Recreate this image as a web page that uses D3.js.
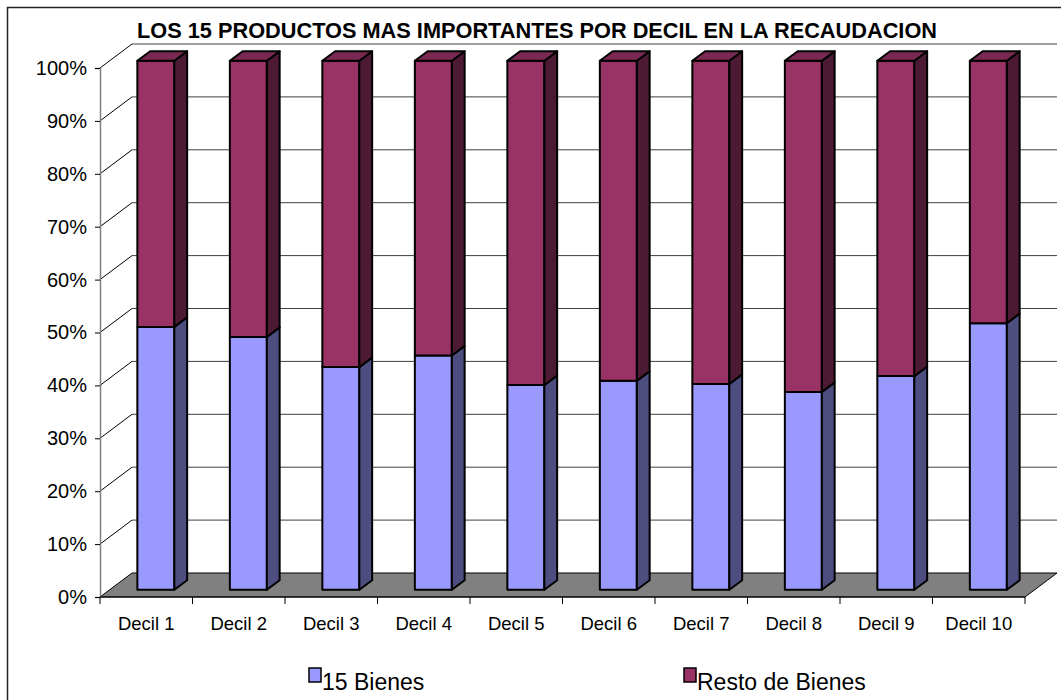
<!DOCTYPE html>
<html>
<head>
<meta charset="utf-8">
<script src="https://cdn.jsdelivr.net/npm/d3@7"></script>
<style>
  html, body { margin: 0; padding: 0; background: #fff; }
  svg { display: block; font-family: "Liberation Sans", Arial, sans-serif; }
</style>
</head>
<body>
<svg id="chart" width="1061" height="700"></svg>
<script>
const title = "LOS 15 PRODUCTOS MAS IMPORTANTES POR DECIL EN LA RECAUDACION";
const categories = ["Decil 1","Decil 2","Decil 3","Decil 4","Decil 5","Decil 6","Decil 7","Decil 8","Decil 9","Decil 10"];
const bienes15 = [49.7, 47.8, 42.1, 44.3, 38.7, 39.5, 38.9, 37.4, 40.4, 50.4];
const restoBienes = [50.3, 52.2, 57.9, 55.7, 61.3, 60.5, 61.1, 62.6, 59.6, 49.6];
const seriesNames = ["15 Bienes", "Resto de Bienes"];
const yTicks = [0, 0.1, 0.2, 0.3, 0.4, 0.5, 0.6, 0.7, 0.8, 0.9, 1.0];

const colors = {
  "15 Bienes": { front: "#9999FF", side: "#4D4D80", top: "#7A7ACC" },
  "Resto de Bienes": { front: "#993366", side: "#4D1A33", top: "#7A2952" }
};

const svg = d3.select("#chart");

// Outer border
svg.append("rect").attr("x", 7.5).attr("y", 7.5).attr("width", 1100).attr("height", 800)
  .attr("fill", "none").attr("stroke", "#222").attr("stroke-width", 1.5);

// geometry
const X0 = 100, X1 = 1025, YB = 597, YT = 68;
const DX = 32, DY = -24;     // depth projection
const Z0 = 0.3, Z1 = 0.7;    // bar depth range

const y = d3.scaleLinear().domain([0, 1]).range([YB, YT]);
const xSlot = d3.scaleBand().domain(categories).range([X0, X1]).padding(0);
const xBar = d3.scaleBand().domain(categories).range([X0, X1]).paddingInner(0.6).paddingOuter(0.3);

const P = (sx, sy, z) => [sx + DX * z, sy + DY * z];
const pts = arr => arr.map(p => p.join(",")).join(" ");

const table = categories.map((c, i) => ({ cat: c, "15 Bienes": bienes15[i], "Resto de Bienes": restoBienes[i] }));
const stacked = d3.stack().keys(seriesNames).offset(d3.stackOffsetExpand)(table);

// Back wall gridlines
const grid = svg.append("g");
yTicks.filter(t => t > 0).forEach(t => {
  const a = P(X0, y(t), 0), b = P(X0, y(t), 1), c = P(X1, y(t), 1);
  grid.append("line").attr("x1", a[0]).attr("y1", a[1]).attr("x2", b[0]).attr("y2", b[1])
    .attr("stroke", "#000").attr("stroke-width", 1);
  grid.append("line").attr("x1", b[0]).attr("y1", b[1]).attr("x2", c[0]).attr("y2", c[1])
    .attr("stroke", "#404040").attr("stroke-width", 1);
});

// Floor
svg.append("polygon")
  .attr("points", pts([P(X0, YB, 0), P(X1, YB, 0), P(X1, YB, 1), P(X0, YB, 1)]))
  .attr("fill", "#808080").attr("stroke", "#000").attr("stroke-width", 1);

// Y axis
const yAxis = d3.axisLeft(y).tickValues(yTicks).tickFormat(d3.format(".0%")).tickSize(5).tickPadding(8);
const yg = svg.append("g").attr("transform", `translate(${X0},0)`).call(yAxis);
yg.select(".domain").attr("stroke", "#808080").attr("stroke-width", 1.5);
yg.selectAll(".tick line").attr("stroke", "#000");
yg.selectAll("text").attr("font-size", "20px").attr("fill", "#000")
  .attr("font-family", "'Liberation Sans', Arial, sans-serif");

// X axis
const xg = svg.append("g");
xg.append("line").attr("x1", X0).attr("y1", YB).attr("x2", X1).attr("y2", YB).attr("stroke", "#000");
const boundaries = categories.map(c => xSlot(c)).concat([X1]);
boundaries.forEach(bx => {
  xg.append("line").attr("x1", bx).attr("y1", YB).attr("x2", bx).attr("y2", YB + 7).attr("stroke", "#000");
});
xg.selectAll("text.cat").data(categories).join("text").attr("class", "cat")
  .attr("x", c => xSlot(c) + xSlot.bandwidth() / 2).attr("y", 630)
  .attr("text-anchor", "middle").attr("font-size", "18.5px").attr("fill", "#000")
  .text(c => c);

// Bars
const bars = svg.append("g");
categories.forEach((c, i) => {
  const xl = xBar(c), xr = xBar(c) + xBar.bandwidth();
  stacked.forEach((s, si) => {
    const d = s[i];
    const yb = y(d[0]), yt = y(d[1]);
    const col = colors[s.key];
    bars.append("polygon")
      .attr("points", pts([P(xl, yb, Z0), P(xr, yb, Z0), P(xr, yt, Z0), P(xl, yt, Z0)]))
      .attr("fill", col.front).attr("stroke", "#000").attr("stroke-width", 2).attr("stroke-linejoin", "round");
    bars.append("polygon")
      .attr("points", pts([P(xr, yb, Z0), P(xr, yb, Z1), P(xr, yt, Z1), P(xr, yt, Z0)]))
      .attr("fill", col.side).attr("stroke", "#000").attr("stroke-width", 2).attr("stroke-linejoin", "round");
    if (si === stacked.length - 1) {
      bars.append("polygon")
        .attr("points", pts([P(xl, yt, Z0), P(xr, yt, Z0), P(xr, yt, Z1), P(xl, yt, Z1)]))
        .attr("fill", col.top).attr("stroke", "#000").attr("stroke-width", 2).attr("stroke-linejoin", "round");
    }
  });
});

// Title
svg.append("text").attr("x", 537).attr("y", 38).attr("text-anchor", "middle")
  .attr("font-size", "22.5px").attr("font-weight", "bold").attr("fill", "#000")
  .attr("textLength", 800).attr("lengthAdjust", "spacingAndGlyphs")
  .text(title);

// Legend
const legendPos = [{ sq: 309, tx: 322 }, { sq: 684, tx: 697 }];
const lg = svg.append("g");
seriesNames.forEach((n, i) => {
  lg.append("rect").attr("x", legendPos[i].sq).attr("y", 668).attr("width", 12).attr("height", 14)
    .attr("fill", colors[n].front).attr("stroke", "#000").attr("stroke-width", 1.5);
  lg.append("text").attr("x", legendPos[i].tx).attr("y", 690).attr("font-size", "23px")
    .attr("fill", "#000").text(n);
});
</script>
</body>
</html>
